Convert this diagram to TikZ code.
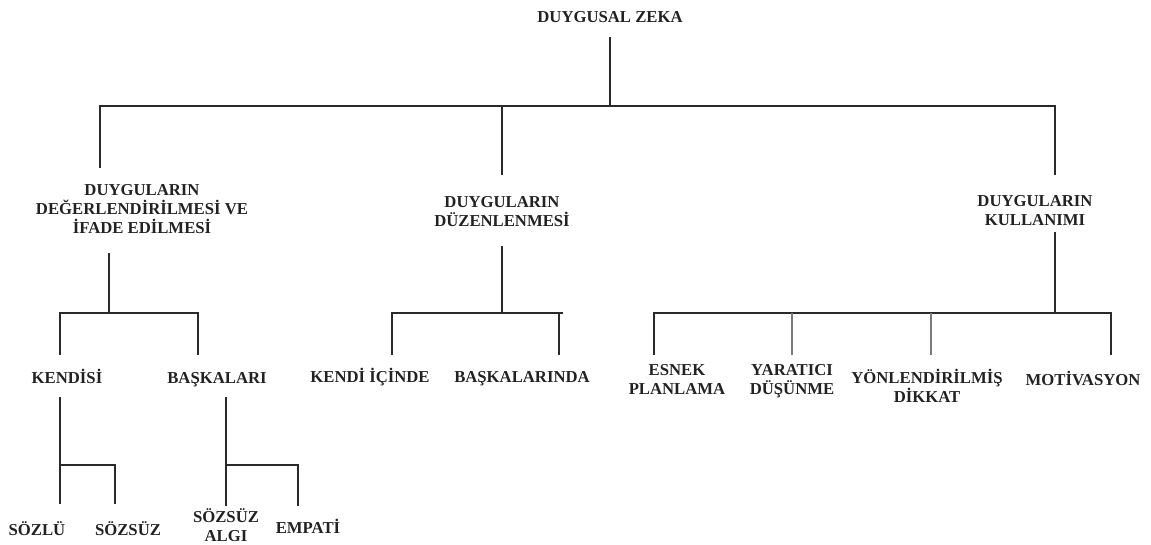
\documentclass[tikz,border=0pt]{standalone}
\usepackage{fontspec}
\setmainfont{Liberation Serif}
\usetikzlibrary{calc}
\definecolor{ink}{HTML}{222222}
\definecolor{wire}{HTML}{2A2A2A}
\definecolor{softwire}{HTML}{7A7A7A}
\tikzset{
  lbl/.style={inner sep=0pt, text=ink, align=center, text depth=0pt,
    font=\fontsize{16.7}{19}\selectfont\bfseries},
  one/.style={lbl, text height=11pt},
  two/.style={lbl, text height=30pt},
  three/.style={lbl, text height=49pt},
  link/.style={draw=wire, line width=1.4pt},
  softlink/.style={draw=softwire, line width=1.4pt}
}
\begin{document}
\begin{tikzpicture}[x=1pt,y=-1pt]
\useasboundingbox (0,0) rectangle (1151,544);

% labels
\node[one]   (root) at (610,17)    {DUYGUSAL ZEKA};
\node[three] (deg)  at (142,209)   {DUYGULARIN\\DEĞERLENDİRİLMESİ VE\\İFADE EDİLMESİ};
\node[two]   (duz)  at (502,211.5) {DUYGULARIN\\DÜZENLENMESİ};
\node[two]   (kul)  at (1035,210.5){DUYGULARIN\\KULLANIMI};

\node[one] (kendisi)   at (67,378)  {KENDİSİ};
\node[one] (baskalari) at (217,378) {BAŞKALARI};
\node[one] (kendiic)   at (370,377) {KENDİ İÇİNDE};
\node[one] (baskalda)  at (522,377) {BAŞKALARINDA};

\node[two] (esnek)  at (677,379)   {ESNEK\\PLANLAMA};
\node[two] (yarat)  at (792,379.5) {YARATICI\\DÜŞÜNME};
\node[two] (yonl)   at (927,387)   {YÖNLENDİRİLMİŞ\\DİKKAT};
\node[one] (motiv)  at (1083,380)  {MOTİVASYON};

\node[one] (sozlu)  at (37,530)    {SÖZLÜ};
\node[one] (sozsuz) at (128,530)   {SÖZSÜZ};
\node[two] (algi)   at (226,526.5) {SÖZSÜZ\\ALGI};
\node[one] (empati) at (308,528)   {EMPATİ};

% connector end points
\coordinate (root-out) at ($(root.south)+(0,14.5)$);
\coordinate (bus0) at (0,106);
\coordinate (deg-in) at (100,168);
\coordinate (duz-in) at (502,175);
\coordinate (kul-in) at (1055,175);

\coordinate (deg-out) at (109,253);
\coordinate (duz-out) at ($(duz.south)+(0,19)$);
\coordinate (kul-out) at (1055,232);
\coordinate (bus1) at (0,313);

\coordinate (kendisi-in)   at (60,355);
\coordinate (baskalari-in) at (198,355);
\coordinate (kendiic-in)   at (392,355);
\coordinate (baskalda-in)  at (559,355);
\coordinate (bus1-end)     at (563,313);
\coordinate (esnek-in)     at (654,355);
\coordinate (yarat-in)     at (792,355);
\coordinate (yonl-in)      at (931,355);
\coordinate (motiv-in)     at (1111,355);

\coordinate (kendisi-out)   at (60,397);
\coordinate (baskalari-out) at (226,397);
\coordinate (bus2) at (0,465);
\coordinate (sozlu-in)  at (60,504);
\coordinate (sozsuz-in) at (115,504);
\coordinate (algi-in)   at (226,506);
\coordinate (empati-in) at (298,506);

% level 1
\draw[link] (root-out) -- (root-out |- bus0);
\draw[link] (deg-in) -- (deg-in |- bus0) -- (kul-in |- bus0) -- (kul-in);
\draw[link] (duz-in) -- (duz-in |- bus0);

% level 2
\draw[link] (deg-out) -- (deg-out |- bus1);
\draw[link] (kendisi-in) -- (kendisi-in |- bus1) -- (baskalari-in |- bus1) -- (baskalari-in);

\draw[link] (duz-out) -- (duz-out |- bus1);
\draw[link] (kendiic-in) -- (kendiic-in |- bus1) -- (bus1-end);
\draw[link] (baskalda-in) -- (baskalda-in |- bus1);

\draw[link] (kul-out) -- (kul-out |- bus1);
\draw[link] (esnek-in) -- (esnek-in |- bus1) -- (motiv-in |- bus1) -- (motiv-in);
\draw[softlink] (yarat-in) -- (yarat-in |- bus1);
\draw[softlink] (yonl-in) -- (yonl-in |- bus1);

% level 3
\draw[link] (kendisi-out) -- (sozlu-in);
\draw[link] (kendisi-out |- bus2) -- (sozsuz-in |- bus2) -- (sozsuz-in);
\draw[link] (baskalari-out) -- (algi-in);
\draw[link] (baskalari-out |- bus2) -- (empati-in |- bus2) -- (empati-in);
\end{tikzpicture}
\end{document}
